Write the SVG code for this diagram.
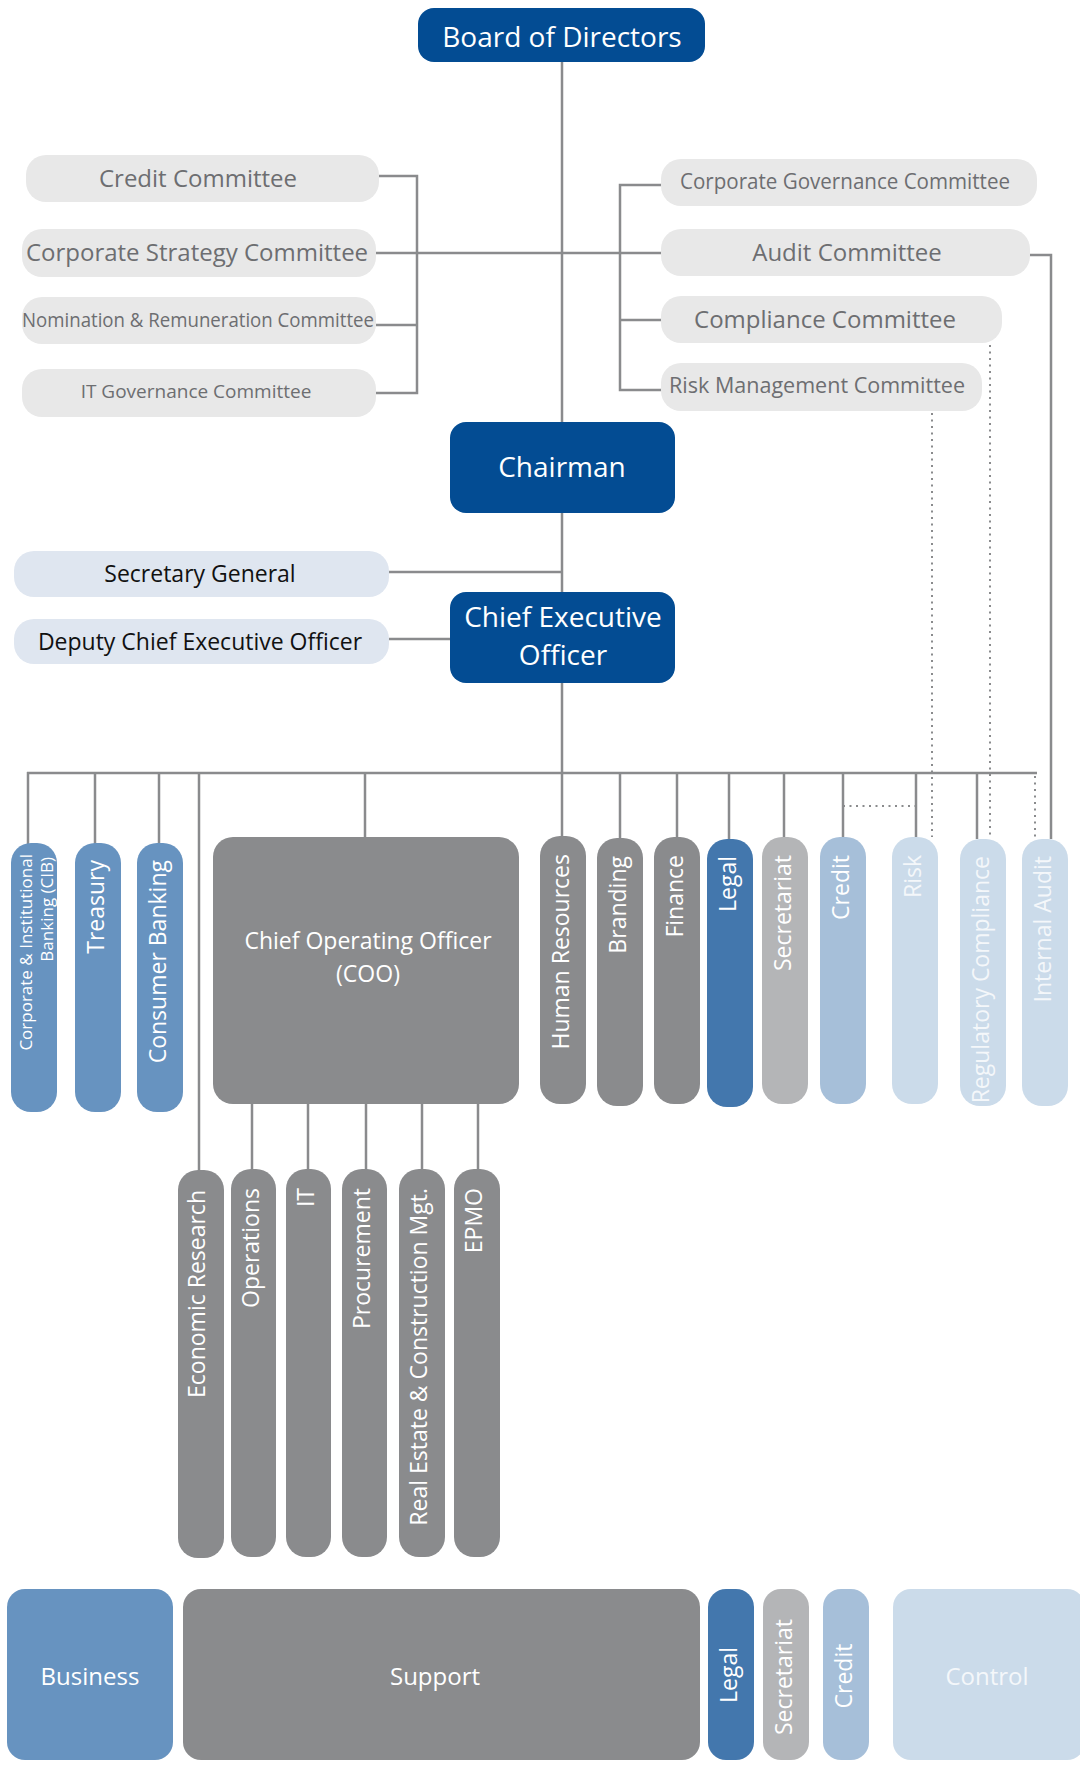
<svg xmlns="http://www.w3.org/2000/svg" width="1080" height="1765" viewBox="0 0 1080 1765">
<style>
text{font-family:"Open Sans","Noto Sans","DejaVu Sans",sans-serif}
.ln{stroke:#8a8b8d;stroke-width:2.5;fill:none}
.dot{stroke:#8a8b8d;stroke-width:2;fill:none;stroke-dasharray:2 4.5}
.navy{fill:#034c93}
.cm{fill:#e8e8e8}
.cmt{fill:#6d6e71;font-size:24px;text-anchor:middle}
.lb{fill:#dfe6f0}
.lbt{fill:#111;font-size:23px;text-anchor:middle}
.wt{fill:#fff;text-anchor:middle}
.biz{fill:#6793c0}
.sup{fill:#8a8b8d}
.leg{fill:#4377ad}
.sec{fill:#b4b5b7}
.cre{fill:#a6bfd9}
.ctl{fill:#cbdbea}
.vt{fill:#fff;font-size:23px;text-anchor:end}
.vtl{fill:#f4f7fa;font-size:23px;text-anchor:end}
.bt{fill:#fff;font-size:24px;text-anchor:middle}
.bvt{fill:#fff;font-size:23px;text-anchor:middle}
</style>

<g id="connectors">
  <line class="ln" x1="562" y1="62" x2="562" y2="837"/>
  <polyline class="ln" points="379,176 417,176 417,393 376,393"/>
  <line class="ln" x1="376" y1="325" x2="417" y2="325"/>
  <line class="ln" x1="376" y1="253" x2="661" y2="253"/>
  <polyline class="ln" points="661,185 620,185 620,390 661,390"/>
  <line class="ln" x1="620" y1="320" x2="661" y2="320"/>
  <polyline class="ln" points="1030,255 1051,255 1051,839"/>
  <line class="ln" x1="389" y1="572" x2="562" y2="572"/>
  <line class="ln" x1="389" y1="639" x2="452" y2="639"/>
  <line class="ln" x1="27" y1="773" x2="1037" y2="773"/>
  <line class="ln" x1="28" y1="772" x2="28" y2="844"/>
  <line class="ln" x1="95" y1="773" x2="95" y2="844"/>
  <line class="ln" x1="159" y1="773" x2="159" y2="844"/>
  <line class="ln" x1="199" y1="773" x2="199" y2="1170"/>
  <line class="ln" x1="365" y1="773" x2="365" y2="837"/>
  <line class="ln" x1="620" y1="773" x2="620" y2="839"/>
  <line class="ln" x1="677" y1="773" x2="677" y2="837"/>
  <line class="ln" x1="729" y1="773" x2="729" y2="839"/>
  <line class="ln" x1="784" y1="773" x2="784" y2="837"/>
  <line class="ln" x1="843" y1="773" x2="843" y2="837"/>
  <line class="ln" x1="916" y1="773" x2="916" y2="837"/>
  <line class="ln" x1="977" y1="773" x2="977" y2="839"/>
  <line class="ln" x1="252" y1="1104" x2="252" y2="1169"/>
  <line class="ln" x1="308" y1="1104" x2="308" y2="1169"/>
  <line class="ln" x1="366" y1="1104" x2="366" y2="1169"/>
  <line class="ln" x1="422" y1="1104" x2="422" y2="1169"/>
  <line class="ln" x1="478" y1="1104" x2="478" y2="1169"/>
  <line class="dot" x1="843" y1="806" x2="916" y2="806"/>
  <line class="dot" x1="932" y1="413" x2="932" y2="837"/>
  <line class="dot" x1="990" y1="345" x2="990" y2="839"/>
  <line class="dot" x1="1035" y1="776" x2="1035" y2="839"/>
</g>

<g id="board"><rect class="navy" x="418" y="8" width="287" height="54" rx="16"/><text class="wt" x="562" y="47" style="font-size:28px">Board of Directors</text></g>

<g id="credit-committee"><rect class="cm" x="26" y="155" width="353" height="47" rx="20"/><text class="cmt" x="198" y="187">Credit Committee</text></g>
<g id="corporate-strategy-committee"><rect class="cm" x="22" y="229" width="354" height="48" rx="20"/><text class="cmt" x="197" y="261">Corporate Strategy Committee</text></g>
<g id="nomination-committee"><rect class="cm" x="22" y="297" width="354" height="47" rx="20"/><text class="cmt" x="198" y="327" style="font-size:20px" textLength="352" lengthAdjust="spacingAndGlyphs">Nomination &amp; Remuneration Committee</text></g>
<g id="it-governance-committee"><rect class="cm" x="22" y="369" width="354" height="48" rx="20"/><text class="cmt" x="196" y="398" style="font-size:19px">IT Governance Committee</text></g>

<g id="corporate-governance-committee"><rect class="cm" x="661" y="159" width="376" height="47" rx="20"/><text class="cmt" x="845" y="189" style="font-size:21px" textLength="330" lengthAdjust="spacingAndGlyphs">Corporate Governance Committee</text></g>
<g id="audit-committee"><rect class="cm" x="661" y="229" width="369" height="47" rx="20"/><text class="cmt" x="847" y="261">Audit Committee</text></g>
<g id="compliance-committee"><rect class="cm" x="661" y="296" width="341" height="47" rx="20"/><text class="cmt" x="825" y="328">Compliance Committee</text></g>
<g id="risk-management-committee"><rect class="cm" x="661" y="363" width="321" height="48" rx="20"/><text class="cmt" x="817" y="393" style="font-size:21.5px" textLength="296" lengthAdjust="spacingAndGlyphs">Risk Management Committee</text></g>

<g id="chairman"><rect class="navy" x="450" y="422" width="225" height="91" rx="16"/><text class="wt" x="562" y="477" style="font-size:28px">Chairman</text></g>
<g id="secretary-general"><rect class="lb" x="14" y="551" width="375" height="46" rx="20"/><text class="lbt" x="200" y="582">Secretary General</text></g>
<g id="deputy-ceo"><rect class="lb" x="14" y="619" width="375" height="45" rx="20"/><text class="lbt" x="200" y="650">Deputy Chief Executive Officer</text></g>
<g id="ceo"><rect class="navy" x="450" y="592" width="225" height="91" rx="16"/><text class="wt" x="563" y="627" style="font-size:28px">Chief Executive</text><text class="wt" x="563" y="665" style="font-size:28px">Officer</text></g>

<g id="cib"><rect class="biz" x="11" y="843" width="46" height="269" rx="20"/><text fill="#fff" font-size="17" text-anchor="end" transform="translate(32,854) rotate(-90)">Corporate &amp; Institutional</text><text fill="#fff" font-size="17" text-anchor="end" transform="translate(53,857) rotate(-90)">Banking (CIB)</text></g>
<g id="treasury"><rect class="biz" x="75" y="843" width="46" height="269" rx="20"/><text class="vt" transform="translate(104,860) rotate(-90)">Treasury</text></g>
<g id="consumer-banking"><rect class="biz" x="137" y="843" width="46" height="269" rx="20"/><text class="vt" transform="translate(166,860) rotate(-90)">Consumer Banking</text></g>

<g id="coo"><rect class="sup" x="213" y="837" width="306" height="267" rx="20"/><text class="wt" x="368" y="949" style="font-size:23px">Chief Operating Officer</text><text class="wt" x="368" y="982" style="font-size:23px">(COO)</text></g>

<g id="human-resources"><rect class="sup" x="540" y="836" width="46" height="268" rx="20"/><text class="vt" transform="translate(569,854) rotate(-90)">Human Resources</text></g>
<g id="branding"><rect class="sup" x="597" y="838" width="46" height="268" rx="20"/><text class="vt" transform="translate(626,856) rotate(-90)">Branding</text></g>
<g id="finance"><rect class="sup" x="654" y="837" width="46" height="267" rx="20"/><text class="vt" transform="translate(683,855) rotate(-90)">Finance</text></g>
<g id="legal"><rect class="leg" x="707" y="839" width="46" height="268" rx="20"/><text class="vt" transform="translate(736,856) rotate(-90)">Legal</text></g>
<g id="secretariat"><rect class="sec" x="762" y="837" width="46" height="267" rx="20"/><text class="vt" transform="translate(791,855) rotate(-90)">Secretariat</text></g>
<g id="credit"><rect class="cre" x="820" y="837" width="46" height="267" rx="20"/><text class="vt" transform="translate(849,855) rotate(-90)">Credit</text></g>
<g id="risk"><rect class="ctl" x="892" y="837" width="46" height="267" rx="20"/><text class="vtl" transform="translate(921,855) rotate(-90)">Risk</text></g>
<g id="regulatory-compliance"><rect class="ctl" x="960" y="839" width="46" height="267" rx="20"/><text class="vtl" transform="translate(989,856) rotate(-90)">Regulatory Compliance</text></g>
<g id="internal-audit"><rect class="ctl" x="1022" y="839" width="46" height="267" rx="20"/><text class="vtl" transform="translate(1051,856) rotate(-90)">Internal Audit</text></g>

<g id="economic-research"><rect class="sup" x="178" y="1170" width="46" height="388" rx="20"/><text class="vt" transform="translate(205,1190) rotate(-90)">Economic Research</text></g>
<g id="operations"><rect class="sup" x="231" y="1169" width="45" height="388" rx="20"/><text class="vt" transform="translate(259,1188) rotate(-90)">Operations</text></g>
<g id="it"><rect class="sup" x="286" y="1169" width="45" height="388" rx="20"/><text class="vt" transform="translate(314,1188) rotate(-90)">IT</text></g>
<g id="procurement"><rect class="sup" x="342" y="1169" width="45" height="388" rx="20"/><text class="vt" transform="translate(370,1188) rotate(-90)">Procurement</text></g>
<g id="real-estate"><rect class="sup" x="399" y="1169" width="46" height="388" rx="20"/><text class="vt" transform="translate(427,1188) rotate(-90)">Real Estate &amp; Construction Mgt.</text></g>
<g id="epmo"><rect class="sup" x="454" y="1169" width="46" height="388" rx="20"/><text class="vt" transform="translate(482,1188) rotate(-90)">EPMO</text></g>

<g id="legend-business"><rect class="biz" x="7" y="1589" width="166" height="171" rx="18"/><text class="bt" x="90" y="1685">Business</text></g>
<g id="legend-support"><rect class="sup" x="183" y="1589" width="517" height="171" rx="18"/><text class="bt" x="435" y="1685">Support</text></g>
<g id="legend-legal"><rect class="leg" x="708" y="1589" width="46" height="171" rx="18"/><text class="bvt" transform="translate(737,1675) rotate(-90)">Legal</text></g>
<g id="legend-secretariat"><rect class="sec" x="763" y="1589" width="46" height="171" rx="18"/><text class="bvt" transform="translate(792,1677) rotate(-90)">Secretariat</text></g>
<g id="legend-credit"><rect class="cre" x="823" y="1589" width="46" height="171" rx="18"/><text class="bvt" transform="translate(852,1676) rotate(-90)">Credit</text></g>
<g id="legend-control"><rect class="ctl" x="893" y="1589" width="192" height="171" rx="18"/><text class="bt" x="987" y="1685" style="fill:#f4f7fa">Control</text></g>
</svg>
